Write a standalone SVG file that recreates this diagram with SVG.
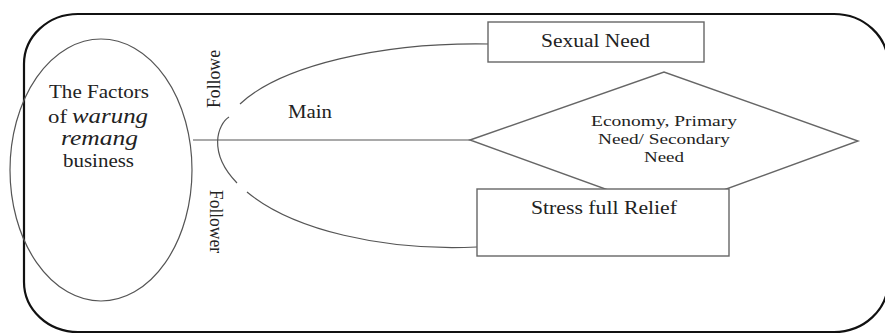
<svg xmlns="http://www.w3.org/2000/svg" width="885" height="334" viewBox="0 0 885 334">
<style>
text{font-family:'Liberation Serif','DejaVu Serif',serif;fill:#222;}
.i{font-style:italic;}
.thin{fill:none;stroke:#555;stroke-width:1.2;}
.box{fill:#fff;stroke:#666;stroke-width:1.4;}
</style>
<rect width="885" height="334" fill="#fff"/>
<g id="frame">
<rect x="24" y="14" width="864" height="318" rx="54" ry="50" fill="none" stroke="#111" stroke-width="2.2"/>
</g>
<g id="connectors" font-family="Liberation Serif, serif">
<line x1="193" y1="140" x2="470" y2="140" class="thin"/>
<path d="M229 117 C218 124 207 152 237 183" class="thin"/>
<path d="M240 104 A 255 96 0 0 1 490 44" class="thin"/>
<path d="M247 192 A 235 107 0 0 0 477 247" class="thin"/>
<text font-family="Liberation Serif, serif" font-size="18" x="288" y="118" textLength="44" lengthAdjust="spacingAndGlyphs">Main</text>
<text font-family="Liberation Serif, serif" font-size="18" transform="translate(220,108) rotate(-90)" textLength="58" lengthAdjust="spacingAndGlyphs">Followe</text>
<text font-family="Liberation Serif, serif" font-size="18" transform="translate(210,190) rotate(90)" textLength="63" lengthAdjust="spacingAndGlyphs">Follower</text>
</g>
<g id="factors" font-family="Liberation Serif, serif">
<ellipse cx="101" cy="170" rx="91" ry="131" class="thin"/>
<text font-family="Liberation Serif, serif" font-size="18" x="99" y="98" text-anchor="middle" textLength="100" lengthAdjust="spacingAndGlyphs">The Factors</text>
<text font-family="Liberation Serif, serif" font-size="18" x="48" y="123" textLength="19" lengthAdjust="spacingAndGlyphs">of</text>
<text font-family="Liberation Serif, serif" class="i" font-size="21" x="72" y="123" textLength="76" lengthAdjust="spacingAndGlyphs">warung</text>
<text font-family="Liberation Serif, serif" class="i" font-size="21" x="61" y="145" textLength="77" lengthAdjust="spacingAndGlyphs">remang</text>
<text font-family="Liberation Serif, serif" font-size="18" x="63" y="167" textLength="71" lengthAdjust="spacingAndGlyphs">business</text>
</g>
<g id="sexual-need" font-family="Liberation Serif, serif">
<rect x="488" y="22" width="216" height="40" class="box"/>
<text font-family="Liberation Serif, serif" font-size="19" x="541" y="47" textLength="109" lengthAdjust="spacingAndGlyphs">Sexual Need</text>
</g>
<g id="economy" font-family="Liberation Serif, serif">
<polygon points="470,140 664,72 858,141 666,211" class="box"/>
<text font-family="Liberation Serif, serif" font-size="15" x="664" y="126" text-anchor="middle" textLength="146" lengthAdjust="spacingAndGlyphs">Economy, Primary</text>
<text font-family="Liberation Serif, serif" font-size="15" x="664" y="144" text-anchor="middle" textLength="132" lengthAdjust="spacingAndGlyphs">Need/ Secondary</text>
<text font-family="Liberation Serif, serif" font-size="15" x="664" y="162" text-anchor="middle" textLength="40" lengthAdjust="spacingAndGlyphs">Need</text>
</g>
<g id="stress-relief" font-family="Liberation Serif, serif">
<rect x="477" y="189" width="252" height="67" class="box"/>
<text font-family="Liberation Serif, serif" font-size="18" x="531" y="214" textLength="146" lengthAdjust="spacingAndGlyphs">Stress full Relief</text>
</g>
</svg>
